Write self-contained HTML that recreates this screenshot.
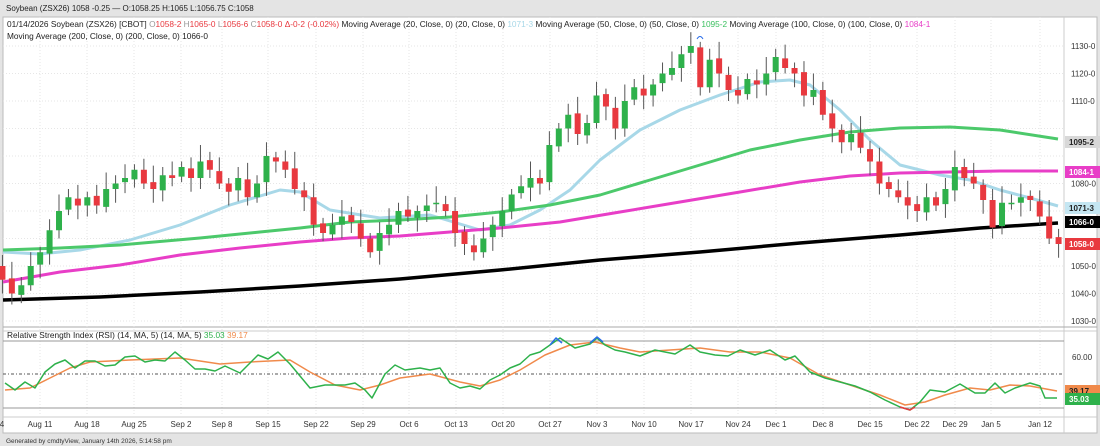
<!DOCTYPE html>
<html><head><meta charset="utf-8"><style>
body{margin:0;width:1100px;height:446px;background:#e4e4e4;font-family:"Liberation Sans",sans-serif;overflow:hidden}
svg{position:absolute;left:0;top:0}
</style></head><body>
<svg id="s" width="1100" height="446" xmlns="http://www.w3.org/2000/svg" font-family="Liberation Sans, sans-serif">
<rect x="0" y="0" width="1100" height="446" fill="#e4e4e4"/>
<text x="6" y="11" font-size="8" fill="#222">Soybean (ZSX26) 1058 -0.25 — O:1058.25 H:1065 L:1056.75 C:1058</text>
<rect x="3" y="17" width="1094" height="416" fill="#fff" stroke="#bbb"/>
<line x1="1064" y1="17" x2="1064" y2="433" stroke="#ccc"/>
<line x1="3" y1="327" x2="1097" y2="327" stroke="#aaa"/>
<line x1="3" y1="331" x2="1097" y2="331" stroke="#ccc"/>
<line x1="3" y1="417" x2="1097" y2="417" stroke="#ccc"/>
<g id="grid"></g>
<text x="7" y="27" font-size="8.3" fill="#222">01/14/2026 Soybean (ZSX26) [CBOT] <tspan fill="#999">O</tspan><tspan fill="#e8393f">1058-2 </tspan><tspan fill="#999">H</tspan><tspan fill="#e8393f">1065-0 </tspan><tspan fill="#999">L</tspan><tspan fill="#e8393f">1056-6 </tspan><tspan fill="#999">C</tspan><tspan fill="#e8393f">1058-0 </tspan><tspan fill="#e8393f">Δ-0-2 (-0.02%)</tspan> Moving Average (20, Close, 0) (20, Close, 0) <tspan fill="#a8d8e8">1071-3</tspan> Moving Average (50, Close, 0) (50, Close, 0) <tspan fill="#3cc060">1095-2</tspan> Moving Average (100, Close, 0) (100, Close, 0) <tspan fill="#e83ec7">1084-1</tspan></text>
<text x="7" y="39" font-size="8.3" fill="#222">Moving Average (200, Close, 0) (200, Close, 0) 1066-0</text>
<text x="7" y="338" font-size="8.3" fill="#222">Relative Strength Index (RSI) (14, MA, 5) (14, MA, 5) <tspan fill="#2eb14b">35.03</tspan> <tspan fill="#f08a4b">39.17</tspan></text>
<line x1="3" y1="341" x2="1064" y2="341" stroke="#999"/>
<line x1="3" y1="408" x2="1064" y2="408" stroke="#999"/>
<line x1="3" y1="374" x2="1064" y2="374" stroke="#555" stroke-dasharray="3,2,1,2"/>
<text x="1072" y="360" font-size="8" fill="#333">60.00</text>
<g id="c"></g>
<path d="M697,39 Q700,34 703,39" fill="none" stroke="#2a6de8" stroke-width="1"/>
<text x="6" y="443" font-size="6.5" fill="#333">Generated by cmdtyView, January 14th 2026, 5:14:58 pm</text>
</svg>
<script>
const S=document.getElementById('s'),NS='http://www.w3.org/2000/svg';
function el(t,a,p){const e=document.createElementNS(NS,t);for(const k in a)e.setAttribute(k,a[k]);(p||S).appendChild(e);return e;}
const Y=p=>46+(1130-p)*2.75;
const G=document.getElementById('grid');
for(let p=1030;p<=1130;p+=10){el('line',{x1:3,x2:1064,y1:Y(p),y2:Y(p),stroke:'#e6e6e6','stroke-dasharray':'1,2'},G);
 if(![1060,1070,1100,1090].includes(p)){const t=el('text',{x:1071,y:Y(p)+3,'font-size':8,fill:'#333'});t.textContent=p+'-0';}}
const dates=[['4',2],['Aug 11',40],['Aug 18',87],['Aug 25',134],['Sep 2',181],['Sep 8',222],['Sep 15',268],['Sep 22',316],['Sep 29',363],['Oct 6',409],['Oct 13',456],['Oct 20',503],['Oct 27',550],['Nov 3',597],['Nov 10',644],['Nov 17',691],['Nov 24',738],['Dec 1',776],['Dec 8',823],['Dec 15',870],['Dec 22',917],['Dec 29',955],['Jan 5',991],['Jan 12',1040]];
dates.forEach(([d,x])=>{el('line',{x1:x,x2:x,y1:17,y2:417,stroke:'#e6e6e6','stroke-dasharray':'1,2'},G);const t=el('text',{x:x,y:427,'font-size':8,fill:'#333','text-anchor':'middle'});t.textContent=d;});
const C=[1050,1045,1040,1043,1050,1055,1063,1070,1075,1072,1075,1072,1078,1080,1082,1085,1080,1078,1083,1082,1086,1082,1088,1085,1080,1077,1082,1075,1080,1090,1088,1085,1078,1075,1065,1062,1065,1068,1066,1060,1055,1062,1065,1070,1068,1070,1072,1073,1070,1062,1058,1055,1060,1065,1070,1076,1079,1082,1080,1094,1100,1105,1098,1102,1112,1108,1100,1110,1115,1112,1116,1120,1122,1127,1130,1115,1125,1120,1114,1112,1118,1116,1120,1126,1122,1120,1112,1114,1105,1100,1095,1098,1093,1088,1080,1078,1075,1072,1070,1075,1072,1078,1086,1082,1080,1074,1064,1073,1073,1075,1074,1068,1060,1058];
const g=document.getElementById('c');
function pl(pts,col,w){el('polyline',{points:pts.map(p=>p.join(',')).join(' '),fill:'none',stroke:col,'stroke-width':w,'stroke-linejoin':'round'},g);}
pl([[3,252],[40,254],[80,250],[130,240],[180,225],[230,205],[280,190],[300,192],[330,210],[380,218],[430,215],[480,230],[510,225],[540,210],[570,190],[600,160],[640,130],[680,110],[720,95],[760,82],[790,80],[810,85],[840,110],[870,140],[900,165],[940,175],[970,180],[1000,190],[1030,198],[1058,206]],'#a8d8e8',3);
pl([[3,250],[60,248],[120,245],[200,238],[260,232],[300,228],[350,222],[400,220],[450,217],[500,212],[550,205],[600,195],[650,180],[700,165],[750,150],[800,140],[850,132],[900,128],[950,127],[1000,130],[1058,139]],'#4cc96b',3);
pl([[3,282],[60,272],[120,265],[180,255],[240,248],[300,242],[350,238],[400,236],[450,232],[500,228],[560,222],[620,212],[680,202],[740,192],[800,182],[850,176],[900,173],[950,172],[1000,171],[1058,171]],'#e83ec7',3);
pl([[3,300],[100,297],[200,292],[300,286],[400,279],[500,270],[600,260],[700,252],[800,243],[900,235],[980,228],[1058,223]],'#000',3.5);
C.forEach((c,i)=>{const o=i?C[i-1]+(i%3-1)*0.5:1052;const x=-7+i*9.43;const hi=Math.max(o,c)+2+(i*7%5),lo=Math.min(o,c)-2-(i*3%4);
 const col=c>=o?'#2eb14b':'#e8393f';
 el('line',{x1:x,x2:x,y1:Y(hi),y2:Y(lo),stroke:'#555','stroke-width':1},g);
 el('rect',{x:x-3,y:Y(Math.max(o,c)),width:6,height:Math.max(1.5,Math.abs(o-c)*2.75),fill:col},g);});
const gr=[[5,383],[15,390],[25,382],[35,388],[45,372],[55,364],[65,360],[75,368],[85,361],[95,361],[105,366],[115,365],[125,357],[135,356],[145,362],[155,360],[165,361],[175,352],[185,360],[195,369],[205,369],[215,371],[225,366],[240,373],[258,355],[268,359],[278,352],[290,364],[310,388],[325,385],[345,385],[355,383],[365,390],[372,398],[385,374],[395,365],[405,370],[420,368],[430,370],[440,368],[450,383],[460,388],[470,386],[480,389],[490,380],[500,375],[510,368],[520,364],[530,355],[540,352],[550,345],[560,338],[575,348],[590,344],[597,338],[605,345],[615,350],[625,352],[640,356],[655,350],[665,352],[675,354],[690,345],[700,352],[715,355],[728,356],[740,350],[755,355],[770,350],[785,360],[795,356],[810,372],[825,378],[840,382],[855,386],[870,392],[885,400],[900,407],[910,410],[920,402],[930,390],[945,392],[960,384],[975,393],[985,393],[995,383],[1005,393],[1015,388],[1030,383],[1040,386],[1045,398],[1057,398]];
const or=[[5,390],[30,388],[50,378],[70,368],[90,362],[130,360],[180,358],[220,364],[250,362],[290,360],[310,372],[335,385],[360,390],[380,385],[400,378],[430,374],[460,382],[480,386],[500,380],[520,370],[545,355],[570,345],[595,342],[620,348],[640,352],[670,350],[700,348],[730,352],[760,352],[790,358],[820,375],[850,385],[880,395],[905,405],[925,402],[945,395],[970,388],[990,390],[1010,385],[1030,386],[1057,391]];
pl(or,'#f08a4b',1.5);pl(gr,'#2eb14b',1.5);
pl([[550,345],[556,338],[562,343]],'#2a6de8',1.5);pl([[590,343],[597,337],[603,342]],'#2a6de8',1.5);
pl([[900,407],[910,410],[915,407]],'#e8393f',1.5);
function tag(y,txt,bg,fg){el('rect',{x:1065,y:y-6,width:35,height:12,fill:bg},g);const t=el('text',{x:1069,y:y+3,'font-size':8,fill:fg,'font-weight':'bold'},g);t.textContent=txt;}
tag(142,'1095-2','#d8d8d8','#222');tag(172,'1084-1','#e83ec7','#fff');tag(208,'1071-3','#c4e6f2','#222');tag(222,'1066-0','#000','#fff');tag(244,'1058-0','#e8393f','#fff');
tag(391,'39.17','#f08a4b','#222');tag(399,'35.03','#2eb14b','#fff');
</script>
</body></html>
